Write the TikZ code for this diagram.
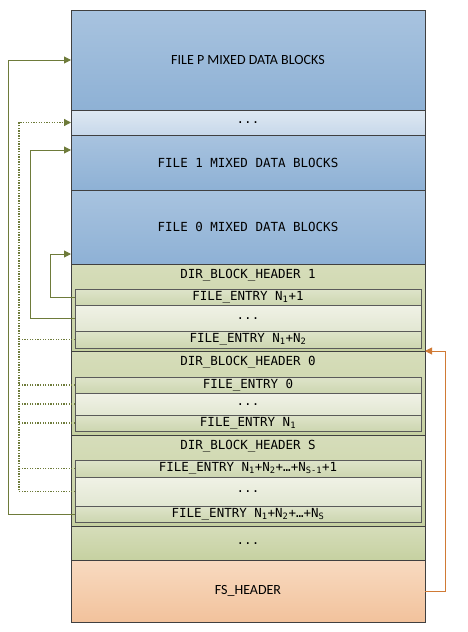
\documentclass[tikz,border=0pt]{standalone}
\usepackage{fontspec}
\setmainfont{Carlito}
\newfontfamily\monof{DejaVu Sans Mono}
\usetikzlibrary{arrows.meta}
\definecolor{bordc}{RGB}{64,64,64}
\definecolor{entbord}{RGB}{90,90,90}
\definecolor{blueT}{RGB}{168,195,223}
\definecolor{blueB}{RGB}{142,177,213}
\definecolor{lblueT}{RGB}{222,232,242}
\definecolor{lblueB}{RGB}{199,216,234}
\definecolor{greenT}{RGB}{214,221,186}
\definecolor{greenB}{RGB}{198,209,161}
\definecolor{entT}{RGB}{222,228,202}
\definecolor{entB}{RGB}{205,214,176}
\definecolor{edotT}{RGB}{240,242,230}
\definecolor{edotB}{RGB}{226,231,210}
\definecolor{fsT}{RGB}{248,218,192}
\definecolor{fsB}{RGB}{242,194,156}
\definecolor{olivec}{RGB}{110,123,58}
\definecolor{orangec}{RGB}{208,122,53}
\newcommand{\dotsdown}{\raisebox{-2.5pt}{...}}
\tikzset{
  blk/.style={draw=bordc, line width=0.9pt, anchor=north west, inner sep=0pt, outer sep=0pt, minimum width=354pt},
  bluebk/.style={blk, top color=blueT, bottom color=blueB},
  lbluebk/.style={blk, top color=lblueT, bottom color=lblueB},
  greenbk/.style={blk, top color=greenT, bottom color=greenB},
  fsbk/.style={blk, top color=fsT, bottom color=fsB},
  entry/.style={draw=entbord, line width=0.8pt, anchor=north west, inner sep=0pt, outer sep=0pt, minimum width=346pt, top color=entT, bottom color=entB, font=\monof\fontsize{12.5}{14}\selectfont},
  edots/.style={entry, top color=edotT, bottom color=edotB},
  mtxt/.style={font=\monof\fontsize{12.5}{14}\selectfont},
  ptxt/.style={font=\fontsize{14}{16}\selectfont},
  hdr/.style={mtxt, anchor=center, inner sep=0pt},
  solidc/.style={draw=olivec, line width=1pt, -{Triangle[length=7pt,width=7pt]}},
  dotc/.style={draw=olivec, line width=1.3pt, dash pattern=on 1.3pt off 1.3pt},
  dotca/.style={dotc, -{Triangle[length=7pt,width=7pt,fill=olivec]}},
  orc/.style={draw=orangec, line width=1pt, -{Triangle[length=7pt,width=7pt]}},
}
\begin{document}
\begin{tikzpicture}[x=1pt,y=-1pt]
\useasboundingbox (0,0) rectangle (467,632);
% data blocks
\node[bluebk, minimum height=100pt, ptxt] (P) at (71,10) {FILE P MIXED DATA BLOCKS};
\node[lbluebk, minimum height=25pt, mtxt] (Pd) at (71,110) {\dotsdown};
\node[bluebk, minimum height=55pt, mtxt] (F1) at (71,135) {FILE 1 MIXED DATA BLOCKS};
\node[bluebk, minimum height=74pt, mtxt] (F0) at (71,190) {FILE 0 MIXED DATA BLOCKS};
% dir block 1
\node[greenbk, minimum height=87pt] (D1) at (71,264) {};
\node[hdr] (h1) at ([yshift=-11pt]D1.north) {DIR\_BLOCK\_HEADER 1};
\node[entry, minimum height=16pt] (e11) at (75,289) {FILE\_ENTRY N\textsubscript{1}+1};
\node[edots, minimum height=26pt] (e1d) at (75,305) {\dotsdown};
\node[entry, minimum height=17pt] (e1n) at (75,331) {FILE\_ENTRY N\textsubscript{1}+N\textsubscript{2}};
% dir block 0
\node[greenbk, minimum height=84pt] (D0) at (71,351) {};
\node[hdr] (h0) at ([yshift=-11.5pt]D0.north) {DIR\_BLOCK\_HEADER 0};
\node[entry, minimum height=16pt] (e01) at (75,377) {FILE\_ENTRY 0};
\node[edots, minimum height=22pt] (e0d) at (75,393) {\dotsdown};
\node[entry, minimum height=16pt] (e0n) at (75,415) {FILE\_ENTRY N\textsubscript{1}};
% dir block S
\node[greenbk, minimum height=91pt] (DS) at (71,435) {};
\node[hdr] (hS) at ([yshift=-11pt]DS.north) {DIR\_BLOCK\_HEADER S};
\node[entry, minimum height=17pt] (eS1) at (75,460) {FILE\_ENTRY N\textsubscript{1}+N\textsubscript{2}+…+N\textsubscript{S-1}+1};
\node[edots, minimum height=29pt] (eSd) at (75,477) {\dotsdown};
\node[entry, minimum height=16pt] (eSn) at (75,506) {FILE\_ENTRY N\textsubscript{1}+N\textsubscript{2}+…+N\textsubscript{S}};
% tail
\node[greenbk, minimum height=34pt, mtxt] (Gd) at (71,526) {\dotsdown};
\node[fsbk, minimum height=62pt, ptxt] (FS) at (71,560) {FS\_HEADER};
% connectors
\draw[solidc] (eSn.west) -- ++(-67,0) |- (P.west);
\draw[solidc] (e1d.west) -- ++(-45,0) |- ([yshift=12.5pt]F1.west);
\draw[solidc] (e11.west) -- ++(-25,0) |- ([yshift=-27pt]F0.west);
\draw[dotca] (eSd.west) -- ++(-56,0) |- (Pd.west);
\draw[dotc] (e1n.west) -- ++(-56,0);
\draw[dotc] (e01.west) -- ++(-56,0);
\draw[dotc] (e0d.west) -- ++(-56,0);
\draw[dotc] (e0n.west) -- ++(-56,0);
\draw[dotc] (eS1.west) -- ++(-56,0);
\draw[orc] (FS.east) -- ++(20,0) |- (D0.north east);
\end{tikzpicture}
\end{document}
